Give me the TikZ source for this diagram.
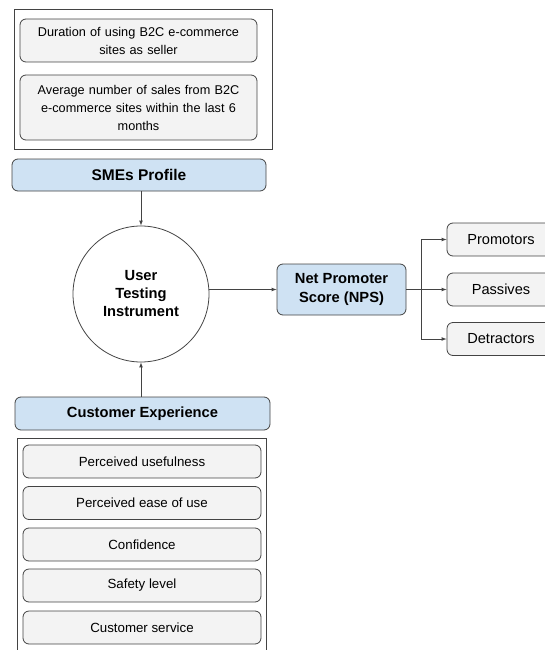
\documentclass[tikz,border=0pt]{standalone}
\usepackage{fontspec}
\setmainfont{Liberation Sans}
\definecolor{headblue}{RGB}{207,226,243}
\definecolor{itemgray}{RGB}{243,243,243}
\definecolor{edgegray}{RGB}{67,67,67}

\begin{document}
\begin{tikzpicture}[x=1pt,y=-1pt,
    box/.style={draw=edgegray,rounded corners=6pt,align=center,inner sep=2pt,line width=0.8pt},
    item/.style={box,fill=itemgray,font=\fontsize{13.3}{18}\selectfont},
    head/.style={box,fill=headblue,font=\fontsize{14.7}{19}\selectfont\bfseries},
    groupbox/.style={draw=edgegray,line width=0.8pt},
    arr/.style={-latex,edgegray,line width=0.7pt}]
  \useasboundingbox (0,0) rectangle (545,650);
  \draw [groupbox] (14,9) rectangle (272,149);
  \node [item,minimum width=237pt,minimum height=43pt,text width=225pt,font=\fontsize{12.7}{18}\selectfont] (dur) at (138.5,40.5) {Duration of using B2C e-commerce\\sites as seller};
  \node [item,minimum width=237pt,minimum height=65pt,text width=225pt,font=\fontsize{12.7}{18}\selectfont] (avg) at (138.5,107.5) {Average number of sales from B2C\\e-commerce sites within the last 6\\months};
  \node [head,minimum width=254pt,minimum height=32pt,font=\fontsize{15.5}{19}\selectfont\bfseries] (smes) at (139,175) {SMEs Profile};
  \node [circle,draw=edgegray,line width=0.8pt,minimum size=136pt,align=center,font=\fontsize{14.7}{18}\selectfont\bfseries] (instr) at (141,294) {User\\Testing\\Instrument};
  \node [head,minimum width=129pt,minimum height=51pt] (nps) at (341.5,289.5) {Net Promoter\\Score (NPS)};
  \node [item,minimum width=108pt,minimum height=33pt,font=\fontsize{14.6}{18}\selectfont] (prom) at (501,239.5) {Promotors};
  \node [item,minimum width=108pt,minimum height=33pt,font=\fontsize{14.6}{18}\selectfont] (pass) at (501,289.5) {Passives};
  \node [item,minimum width=108pt,minimum height=33pt,font=\fontsize{14.6}{18}\selectfont] (detr) at (501,339) {Detractors};
  \node [head,minimum width=255pt,minimum height=33pt] (cust) at (142.5,413.5) {Customer Experience};
  \draw [groupbox] (17,438) rectangle (266,660);
  \node [item,minimum width=238pt,minimum height=33pt] (useful) at (142,461.5) {Perceived usefulness};
  \node [item,minimum width=238pt,minimum height=33pt] (ease) at (142,503) {Perceived ease of use};
  \node [item,minimum width=238pt,minimum height=33pt] (conf) at (142,544.5) {Confidence};
  \node [item,minimum width=238pt,minimum height=33pt] (safe) at (142,585.5) {Safety level};
  \node [item,minimum width=238pt,minimum height=33pt] (serv) at (142,627.5) {Customer service};
  \coordinate (fork) at (421,289.5);
  \draw [arr] (instr.north |- smes.south) -- (instr.north);
  \draw [arr] (instr.south |- cust.north) -- (instr.south);
  \draw [arr] (instr.east |- nps.west) -- (nps.west);
  \draw [arr] (nps) -- (pass);
  \draw [arr] (fork) |- (prom);
  \draw [arr] (fork) |- (detr);
\end{tikzpicture}
\end{document}
